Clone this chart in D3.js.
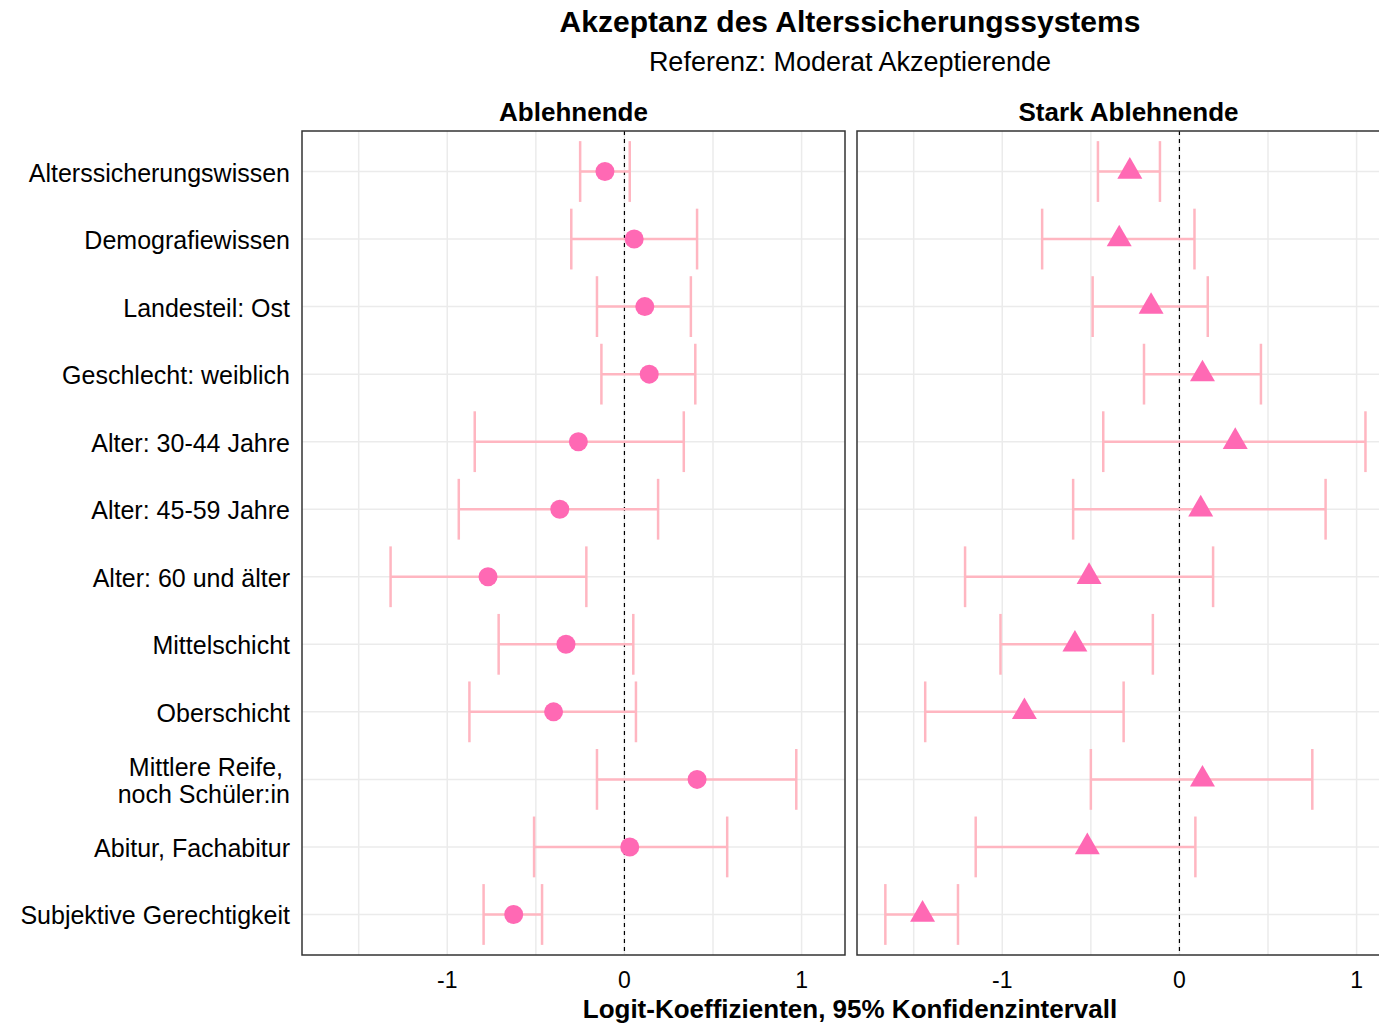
<!DOCTYPE html>
<html>
<head>
<meta charset="utf-8">
<script src="https://cdn.jsdelivr.net/npm/d3@7"></script>
<style>
  body { margin: 0; background: #fff; }
  svg { font-family: "Liberation Sans", Arial, sans-serif; display: block; }
</style>
</head>
<body>
<div id="chart"></div>
<script>
// categories, top to bottom
const categories = [
  "Alterssicherungswissen", "Demografiewissen", "Landesteil: Ost",
  "Geschlecht: weiblich", "Alter: 30-44 Jahre", "Alter: 45-59 Jahre",
  "Alter: 60 und älter", "Mittelschicht", "Oberschicht",
  "Mittlere Reife, \nnoch Schüler:in", "Abitur, Fachabitur", "Subjektive Gerechtigkeit"
];
const panels = ["Ablehnende", "Stark Ablehnende"];

// Ablehnende
const estAbl   = [-0.11, 0.055, 0.115, 0.14, -0.26, -0.365, -0.77, -0.33, -0.40, 0.41, 0.03, -0.625];
const lowAbl   = [-0.25, -0.30, -0.155, -0.13, -0.845, -0.935, -1.32, -0.71, -0.875, -0.155, -0.51, -0.795];
const highAbl  = [0.03, 0.41, 0.375, 0.40, 0.335, 0.19, -0.215, 0.05, 0.065, 0.97, 0.58, -0.465];

// Stark Ablehnende
const estStark  = [-0.28, -0.34, -0.16, 0.13, 0.315, 0.12, -0.51, -0.59, -0.875, 0.13, -0.52, -1.45];
const lowStark  = [-0.46, -0.775, -0.49, -0.20, -0.43, -0.60, -1.21, -1.01, -1.435, -0.50, -1.15, -1.66];
const highStark = [-0.11, 0.085, 0.16, 0.46, 1.05, 0.825, 0.19, -0.15, -0.315, 0.75, 0.09, -1.25];

const xTicks = [-1, 0, 1];
const xGrid = [-1.5, -1, -0.5, 0, 0.5, 1];

const W = 1379, H = 1023;
const panelW = 543, panelH = 824, panelTop = 131;
const panelX = [302, 857];

const svg = d3.select("#chart").append("svg")
    .attr("width", W)
    .attr("height", H);

const x = d3.scaleLinear().domain([-1.82, 1.245]).range([0, panelW]);
const y = d3.scalePoint().domain(categories).range([0, panelH]).padding(0.6);
const capH = y.step() * 0.45;

const series = [
  categories.map((c, i) => ({ cat: c, est: estAbl[i], lo: lowAbl[i], hi: highAbl[i] })),
  categories.map((c, i) => ({ cat: c, est: estStark[i], lo: lowStark[i], hi: highStark[i] }))
];

// title
svg.append("text")
    .attr("x", 850).attr("y", 32)
    .attr("text-anchor", "middle")
    .style("font-size", "30px").style("font-weight", "bold")
    .text("Akzeptanz des Alterssicherungssystems");
svg.append("text")
    .attr("x", 850).attr("y", 71)
    .attr("text-anchor", "middle")
    .style("font-size", "27px")
    .text("Referenz: Moderat Akzeptierende");

panels.forEach((name, p) => {
  const g = svg.append("g").attr("transform", "translate(" + panelX[p] + "," + panelTop + ")");

  // strip label
  g.append("text")
      .attr("x", panelW / 2).attr("y", -10)
      .attr("text-anchor", "middle")
      .style("font-size", "26px").style("font-weight", "bold")
      .text(name);

  // grid
  g.selectAll(".vgrid").data(xGrid).enter().append("line")
      .attr("x1", d => x(d)).attr("x2", d => x(d))
      .attr("y1", 0).attr("y2", panelH)
      .attr("stroke", "#ebebeb").attr("stroke-width", 1.5);
  g.selectAll(".hgrid").data(categories).enter().append("line")
      .attr("x1", 0).attr("x2", panelW)
      .attr("y1", d => y(d)).attr("y2", d => y(d))
      .attr("stroke", "#ebebeb").attr("stroke-width", 1.5);

  // zero reference
  g.append("line")
      .attr("x1", x(0)).attr("x2", x(0))
      .attr("y1", 0).attr("y2", panelH)
      .attr("stroke", "#000").attr("stroke-width", 1.2)
      .attr("stroke-dasharray", "4,4");

  const data = series[p];

  // error bars
  const eb = g.append("g").attr("stroke", "#ffb6c1").attr("stroke-width", 2.5);
  eb.selectAll(".h").data(data).enter().append("line")
      .attr("x1", d => x(d.lo)).attr("x2", d => x(d.hi))
      .attr("y1", d => y(d.cat)).attr("y2", d => y(d.cat));
  eb.selectAll(".l").data(data).enter().append("line")
      .attr("x1", d => x(d.lo)).attr("x2", d => x(d.lo))
      .attr("y1", d => y(d.cat) - capH).attr("y2", d => y(d.cat) + capH);
  eb.selectAll(".r").data(data).enter().append("line")
      .attr("x1", d => x(d.hi)).attr("x2", d => x(d.hi))
      .attr("y1", d => y(d.cat) - capH).attr("y2", d => y(d.cat) + capH);

  // points
  if (p === 0) {
    g.selectAll(".pt").data(data).enter().append("circle")
        .attr("cx", d => x(d.est)).attr("cy", d => y(d.cat))
        .attr("r", 9.5)
        .attr("fill", "#ff69b4");
  } else {
    const tri = d3.symbol().type(d3.symbolTriangle).size(270);
    g.selectAll(".pt").data(data).enter().append("path")
        .attr("d", tri)
        .attr("transform", d => "translate(" + x(d.est) + "," + y(d.cat) + ")")
        .attr("fill", "#ff69b4");
  }

  // border
  g.append("rect")
      .attr("x", 0).attr("y", 0)
      .attr("width", panelW).attr("height", panelH)
      .attr("fill", "none").attr("stroke", "#333").attr("stroke-width", 1.5);

  // x tick labels
  g.selectAll(".xt").data(xTicks).enter().append("text")
      .attr("x", d => x(d)).attr("y", panelH + 33)
      .attr("text-anchor", "middle")
      .style("font-size", "23px")
      .text(d => d);

  // y labels on left panel only
  if (p === 0) {
    const lab = g.selectAll(".yl").data(categories).enter().append("text")
        .attr("x", -12)
        .attr("text-anchor", "end")
        .style("font-size", "25px");
    lab.each(function(d) {
      const lines = d.split("\n");
      const t = d3.select(this);
      const y0 = y(d) + 10 - (lines.length - 1) * 13.5;
      lines.forEach((ln, k) => {
        t.append("tspan")
            .attr("x", -12)
            .attr("y", y0 + k * 27)
            .attr("xml:space", "preserve")
            .text(ln);
      });
    });
  }
});

// x axis title
svg.append("text")
    .attr("x", 850).attr("y", 1018)
    .attr("text-anchor", "middle")
    .style("font-size", "26px").style("font-weight", "bold")
    .text("Logit-Koeffizienten, 95% Konfidenzintervall");
</script>
</body>
</html>
